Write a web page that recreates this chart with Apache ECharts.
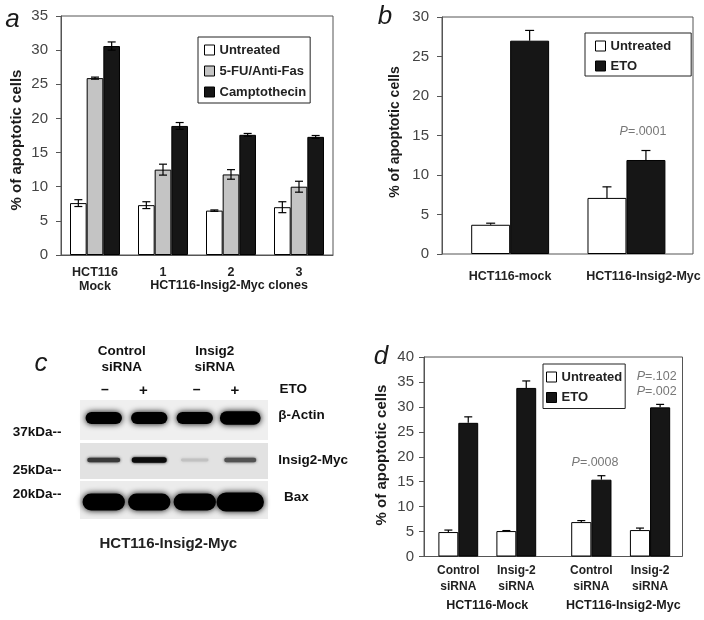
<!DOCTYPE html>
<html>
<head>
<meta charset="utf-8">
<script src="https://cdn.jsdelivr.net/npm/echarts/dist/echarts.min.js"></script>
<style>html,body{margin:0;padding:0;background:#fff}#c{width:704px;height:620px}</style>
</head>
<body>
<div id="c"></div>
<script>
const FONT = "'Liberation Sans', Arial, Helvetica, sans-serif";

// ---------- Panel a ----------
const aCategories = ['HCT116\nMock', '1', '2', '3'];
const aSeriesNames = ['Untreated', '5-FU/Anti-Fas', 'Camptothecin'];
const aUntreated = [7.6, 7.3, 6.5, 7.0];
const aUntreatedErr = [0.5, 0.5, 0.1, 0.8];
const aFU = [25.9, 12.5, 11.8, 10.0];
const aFUErr = [0.15, 0.8, 0.7, 0.8];
const aCampto = [30.6, 18.9, 17.6, 17.3];
const aCamptoErr = [0.6, 0.5, 0.2, 0.2];
const aYMax = 35, aYStep = 5;
const aGroupLabel = 'HCT116-Insig2-Myc clones';

// ---------- Panel b ----------
const bCategories = ['HCT116-mock', 'HCT116-Insig2-Myc'];
const bSeriesNames = ['Untreated', 'ETO'];
const bUntreated = [3.7, 7.1];
const bUntreatedErr = [0.2, 1.4];
const bETO = [27.0, 11.9];
const bETOErr = [1.3, 1.2];
const bYMax = 30, bYStep = 5;
const bPValue = '.0001';

// ---------- Panel c (western blot) ----------
const cSiRNA = ['Control\nsiRNA', 'Insig2\nsiRNA'];
const cEtoSigns = ['–', '+', '–', '+'];
const cLanes = ['Control siRNA –', 'Control siRNA +', 'Insig2 siRNA –', 'Insig2 siRNA +'];
const cProteins = ['β-Actin', 'Insig2-Myc', 'Bax'];
const cMarkers = ['37kDa--', '25kDa--', '20kDa--'];
const cBandIntensity = [
  [1.0, 1.0, 1.0, 1.12],   // β-Actin
  [0.72, 0.95, 0.06, 0.6], // Insig2-Myc
  [1.0, 1.0, 1.0, 1.12]    // Bax
];
const cCellLine = 'HCT116-Insig2-Myc';

// ---------- Panel d ----------
const dGroups = ['HCT116-Mock', 'HCT116-Insig2-Myc'];
const dCategories = ['Control\nsiRNA', 'Insig-2\nsiRNA'];
const dSeriesNames = ['Untreated', 'ETO'];
const dUntreated = [4.9, 5.1, 6.9, 5.3];
const dUntreatedErr = [0.4, 0.1, 0.3, 0.4];
const dETO = [26.8, 33.8, 15.4, 29.9];
const dETOErr = [1.2, 1.4, 0.8, 0.6];
const dYMax = 40, dYStep = 5;
const dPValues = ['.102', '.002', '.0008'];

// ---------- styles ----------
const WHITE = {color: '#ffffff', borderColor: '#000', borderWidth: 1};
const GREY = {color: '#c4c4c4', borderColor: '#000', borderWidth: 1};
const BLACK = {color: '#161616', borderColor: '#000', borderWidth: 1};

function valueY(gridIndex, max, step, margin) {
  return {
    type: 'value', gridIndex, min: 0, max, interval: step,
    axisLine: {show: true, lineStyle: {color: '#555', width: 1}},
    axisTick: {show: true, inside: false, length: 5, lineStyle: {color: '#555'}},
    splitLine: {show: false},
    axisLabel: {fontSize: 15, color: '#444', margin, fontFamily: FONT}
  };
}
function hiddenY(gridIndex, max) {
  return {type: 'value', gridIndex, min: 0, max, show: false, splitLine: {show: false}};
}
function barSeries(name, xi, yi, data, style, width) {
  return {type: 'bar', name, xAxisIndex: xi, yAxisIndex: yi, data, itemStyle: style,
    barWidth: width, barGap: '0%', z: 2};
}
function errSeries(xi, yi, vals, errs, k, n, frac, both, cap) {
  return {
    type: 'custom', xAxisIndex: xi, yAxisIndex: yi, z: 5, silent: true,
    data: vals.map((v, i) => [i, v, errs[i]]),
    renderItem(params, api) {
      const i = api.value(0), v = api.value(1), e = api.value(2);
      const bw = api.size([1, 0])[0];
      const off = (k - (n - 1) / 2) * bw * frac;
      const top = api.coord([i, v + e]);
      const bot = api.coord([i, both ? v - e : v]);
      const x = top[0] + off;
      const st = {stroke: '#000', lineWidth: 1.2};
      const ch = [
        {type: 'line', shape: {x1: x, y1: top[1], x2: x, y2: bot[1]}, style: st},
        {type: 'line', shape: {x1: x - cap, y1: top[1], x2: x + cap, y2: top[1]}, style: st}
      ];
      if (both) ch.push({type: 'line', shape: {x1: x - cap, y1: bot[1], x2: x + cap, y2: bot[1]}, style: st});
      return {type: 'group', children: ch};
    }
  };
}
function txt(x, y, text, o) {
  o = o || {};
  const el = {
    type: 'text', x, y, rotation: o.rot || 0, silent: true,
    style: {
      text, fill: o.color || '#1a1a1a',
      font: `${o.style || 'normal'} ${o.weight || 'bold'} ${o.size || 13}px ${FONT}`,
      align: o.align || 'center', verticalAlign: 'middle',
      lineHeight: o.lh || undefined
    }
  };
  if (o.rich) el.style.rich = o.rich;
  return el;
}
function pText(x, y, val) {
  return txt(x, y, '{i|P}{n|=' + val + '}', {
    rich: {
      i: {font: `italic 12.5px ${FONT}`, fill: '#777'},
      n: {font: `12.5px ${FONT}`, fill: '#777'}
    }
  });
}

// band shapes for the blot: fraction of lane width, base height (px)
const BAND = [{w: 0.8, h: 12}, {w: 0.74, h: 5.5}, {w: 0.93, h: 17}];

const blotData = [];
cBandIntensity.forEach((row, p) => row.forEach((v, l) => blotData.push([l, p, v])));

const option = {
  animation: false,
  backgroundColor: '#fff',
  textStyle: {fontFamily: FONT},
  grid: [
    {left: 61, top: 16, width: 272, height: 239, show: true, borderColor: '#555', borderWidth: 1, containLabel: false, outerBoundsMode: 'none'},
    {left: 442, top: 17, width: 251, height: 237, show: true, borderColor: '#555', borderWidth: 1, containLabel: false, outerBoundsMode: 'none'},
    {left: 452, top: 17, width: 232.6, height: 237, containLabel: false, outerBoundsMode: 'none'},
    {left: 424, top: 357, width: 258.5, height: 199.5, show: true, borderColor: '#555', borderWidth: 1, containLabel: false, outerBoundsMode: 'none'},
    {left: 429.3, top: 357, width: 116, height: 199.5, containLabel: false, outerBoundsMode: 'none'},
    {left: 562, top: 357, width: 117.4, height: 199.5, containLabel: false, outerBoundsMode: 'none'},
    {left: 81, top: 397, width: 182, height: 126, containLabel: false, outerBoundsMode: 'none'}
  ],
  xAxis: [
    {type: 'category', gridIndex: 0, data: aCategories,
      axisLine: {show: true, lineStyle: {color: '#555'}}, axisTick: {show: false},
      axisLabel: {interval: 0, fontSize: 12.5, fontWeight: 'bold', color: '#222', margin: 11, lineHeight: 14, fontFamily: FONT}},
    {type: 'value', gridIndex: 1, min: 0, max: 1, show: false},
    {type: 'category', gridIndex: 2, data: bCategories,
      axisLine: {show: false}, axisTick: {show: false},
      axisLabel: {interval: 0, fontSize: 12.5, fontWeight: 'bold', color: '#222', margin: 16, fontFamily: FONT,
        formatter: (v, i) => i === 1 ? '{s|' + v + '}' : v,
        rich: {s: {fontSize: 12.5, fontWeight: 'bold', color: '#222', padding: [0, 0, 0, 34], fontFamily: FONT}}}},
    {type: 'value', gridIndex: 3, min: 0, max: 1, show: false},
    {type: 'category', gridIndex: 4, data: dCategories,
      axisLine: {show: false}, axisTick: {show: false},
      axisLabel: {interval: 0, fontSize: 12, fontWeight: 'bold', color: '#222', margin: 6, lineHeight: 16, fontFamily: FONT}},
    {type: 'category', gridIndex: 5, data: dCategories,
      axisLine: {show: false}, axisTick: {show: false},
      axisLabel: {interval: 0, fontSize: 12, fontWeight: 'bold', color: '#222', margin: 6, lineHeight: 16, fontFamily: FONT}},
    {type: 'category', gridIndex: 6, data: cLanes, show: false}
  ],
  yAxis: [
    valueY(0, aYMax, aYStep, 13),
    valueY(1, bYMax, bYStep, 13),
    hiddenY(2, bYMax),
    valueY(3, dYMax, dYStep, 10),
    hiddenY(4, dYMax),
    hiddenY(5, dYMax),
    {type: 'category', gridIndex: 6, data: cProteins, inverse: true, show: false}
  ],
  legend: [
    {left: 198, top: 37, orient: 'vertical', data: aSeriesNames, icon: 'rect', itemWidth: 10, itemHeight: 10,
      itemGap: 7, padding: [6, 4, 4, 6], borderColor: '#222', borderWidth: 1, selectedMode: false,
      itemStyle: {borderColor: '#000', borderWidth: 1},
      textStyle: {fontSize: 13, fontWeight: 'bold', color: '#222', fontFamily: FONT, lineHeight: 14}},
    {left: 585, top: 33, orient: 'vertical', data: bSeriesNames, icon: 'rect', itemWidth: 10, itemHeight: 10,
      itemGap: 6, padding: [6, 20, 3, 10], borderColor: '#222', borderWidth: 1, selectedMode: false,
      itemStyle: {borderColor: '#000', borderWidth: 1},
      textStyle: {fontSize: 13, fontWeight: 'bold', color: '#222', fontFamily: FONT, lineHeight: 14}},
    {left: 543, top: 364, orient: 'vertical', data: dSeriesNames, icon: 'rect', itemWidth: 10, itemHeight: 10,
      itemGap: 6.5, padding: [6, 3, 4, 3], borderColor: '#222', borderWidth: 1, selectedMode: false,
      itemStyle: {borderColor: '#000', borderWidth: 1},
      textStyle: {fontSize: 13, fontWeight: 'bold', color: '#222', fontFamily: FONT, lineHeight: 14}}
  ],
  series: [
    // a
    barSeries(aSeriesNames[0], 0, 0, aUntreated, WHITE, '24.5%'),
    barSeries(aSeriesNames[1], 0, 0, aFU, GREY, '24.5%'),
    barSeries(aSeriesNames[2], 0, 0, aCampto, BLACK, '24.5%'),
    errSeries(0, 0, aUntreated, aUntreatedErr, 0, 3, 0.245, true, 4),
    errSeries(0, 0, aFU, aFUErr, 1, 3, 0.245, true, 4),
    errSeries(0, 0, aCampto, aCamptoErr, 2, 3, 0.245, true, 4),
    // b
    barSeries(bSeriesNames[0], 2, 2, bUntreated, WHITE, '33.5%'),
    barSeries(bSeriesNames[1], 2, 2, bETO, BLACK, '33.5%'),
    errSeries(2, 2, bUntreated, bUntreatedErr, 0, 2, 0.335, false, 4.5),
    errSeries(2, 2, bETO, bETOErr, 1, 2, 0.335, false, 4.5),
    // d (two sub-groups)
    barSeries(dSeriesNames[0], 4, 4, dUntreated.slice(0, 2), WHITE, '34.3%'),
    barSeries(dSeriesNames[1], 4, 4, dETO.slice(0, 2), BLACK, '34.3%'),
    errSeries(4, 4, dUntreated.slice(0, 2), dUntreatedErr.slice(0, 2), 0, 2, 0.343, false, 4),
    errSeries(4, 4, dETO.slice(0, 2), dETOErr.slice(0, 2), 1, 2, 0.343, false, 4),
    barSeries(dSeriesNames[0], 5, 5, dUntreated.slice(2), WHITE, '34.3%'),
    barSeries(dSeriesNames[1], 5, 5, dETO.slice(2), BLACK, '34.3%'),
    errSeries(5, 5, dUntreated.slice(2), dUntreatedErr.slice(2), 0, 2, 0.343, false, 4),
    errSeries(5, 5, dETO.slice(2), dETOErr.slice(2), 1, 2, 0.343, false, 4),
    // c blot bands
    {
      type: 'custom', xAxisIndex: 6, yAxisIndex: 6, z: 3, silent: true, data: blotData,
      renderItem(params, api) {
        const lane = api.value(0), p = api.value(1), inten = api.value(2);
        const c = api.coord([lane, p]);
        const bw = api.size([1, 0])[0];
        const b = BAND[p];
        let w, h;
        if (p === 1) {
          w = bw * b.w * (0.8 + 0.25 * inten);
          h = b.h * (0.5 + 0.5 * inten);
        } else {
          w = bw * b.w * inten;
          h = b.h * inten;
        }
        const g = Math.max(0, Math.round(205 * (1 - Math.min(inten, 1))));
        const col = `rgb(${g},${g},${g})`;
        return {
          type: 'rect',
          shape: {x: c[0] - w / 2, y: c[1] - h / 2, width: w, height: h, r: h / 2},
          style: {fill: col, shadowBlur: p === 1 ? 3 : 6, shadowColor: col}
        };
      }
    }
  ],
  graphic: {
    elements: [
      // blot strips
      {type: 'rect', shape: {x: 80, y: 400, width: 188, height: 40}, style: {fill: '#efefef'}, silent: true},
      {type: 'rect', shape: {x: 80, y: 443, width: 188, height: 36}, style: {fill: '#e2e2e2'}, silent: true},
      {type: 'rect', shape: {x: 80, y: 481, width: 188, height: 38}, style: {fill: '#ececec'}, silent: true},
      // panel letters
      txt(12.5, 20, 'a', {style: 'italic', weight: 'normal', size: 26}),
      txt(385, 17, 'b', {style: 'italic', weight: 'normal', size: 26}),
      txt(41, 364, 'c', {style: 'italic', weight: 'normal', size: 26}),
      txt(381, 357, 'd', {style: 'italic', weight: 'normal', size: 26}),
      // y titles
      txt(16.5, 140, '% of apoptotic cells', {size: 15, rot: Math.PI / 2}),
      txt(395, 132, '% of apoptotic cells', {size: 14, rot: Math.PI / 2}),
      txt(381.5, 455, '% of apoptotic cells', {size: 15, rot: Math.PI / 2}),
      // group labels
      txt(229, 286, aGroupLabel, {size: 12.5}),
      txt(487.3, 605.7, dGroups[0], {size: 12.5}),
      txt(623.3, 605.7, dGroups[1], {size: 12.5}),
      // p values
      pText(643, 131.7, bPValue),
      pText(656.7, 376.7, dPValues[0]),
      pText(656.7, 392, dPValues[1]),
      pText(595, 462.8, dPValues[2]),
      // blot labels
      txt(121.7, 359.7, cSiRNA[0], {size: 13.5, lh: 16, color: '#111'}),
      txt(214.7, 359.7, cSiRNA[1], {size: 13.5, lh: 16, color: '#111'}),
      txt(105, 390, cEtoSigns[0], {size: 14, color: '#111'}),
      txt(143.3, 391, cEtoSigns[1], {size: 15, color: '#111'}),
      txt(196.7, 390, cEtoSigns[2], {size: 14, color: '#111'}),
      txt(235, 391, cEtoSigns[3], {size: 15, color: '#111'}),
      txt(293.3, 389.3, 'ETO', {size: 13.5, color: '#111'}),
      txt(278.3, 415.7, cProteins[0], {size: 13.5, align: 'left', color: '#111'}),
      txt(278.3, 460.7, cProteins[1], {size: 13.5, align: 'left', color: '#111'}),
      txt(284, 497, cProteins[2], {size: 13.5, align: 'left', color: '#111'}),
      txt(12.7, 432.7, cMarkers[0], {size: 13.5, align: 'left', color: '#111'}),
      txt(12.7, 470, cMarkers[1], {size: 13.5, align: 'left', color: '#111'}),
      txt(12.7, 494.3, cMarkers[2], {size: 13.5, align: 'left', color: '#111'}),
      txt(168.3, 544.3, cCellLine, {size: 15, color: '#222'})
    ]
  }
};

const chart = echarts.init(document.getElementById('c'), null, {renderer: 'canvas'});
chart.setOption(option);
</script>
</body>
</html>
